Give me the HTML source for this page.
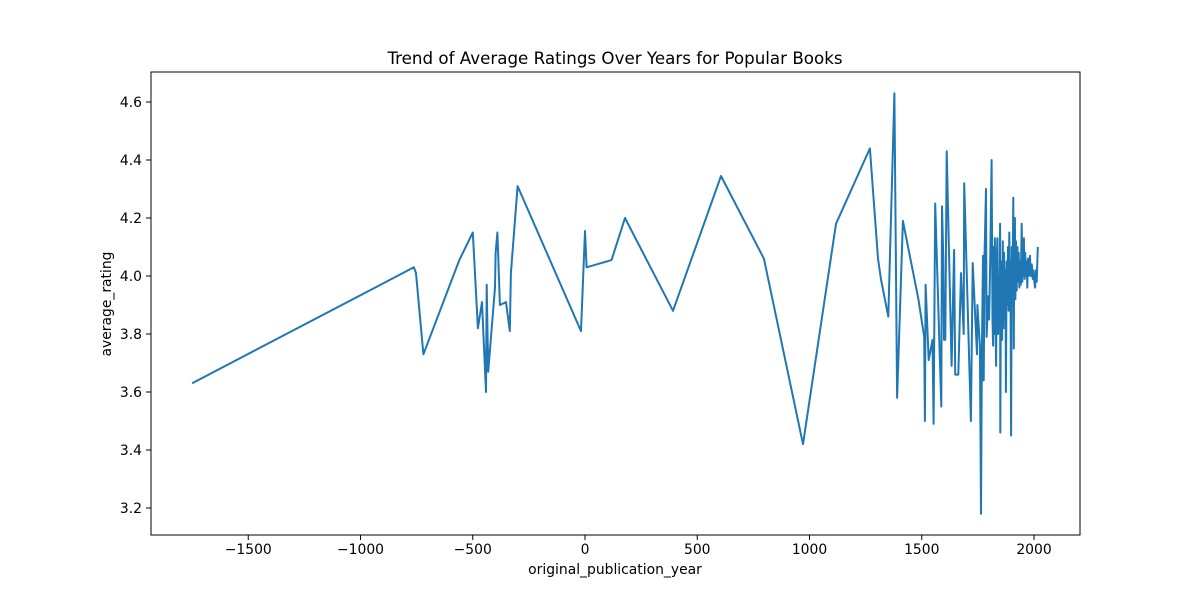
<!DOCTYPE html>
<html><head><meta charset="utf-8"><style>
body{margin:0;background:#fff}
svg text{font-family:"DejaVu Sans","Liberation Sans",sans-serif;fill:#000}
</style></head><body>
<svg id="chart" width="1200" height="600" xmlns="http://www.w3.org/2000/svg">
<rect width="1200" height="600" fill="#fff"/>
<text x="615" y="64" font-size="16.7" text-anchor="middle">Trend of Average Ratings Over Years for Popular Books</text>
<text x="615" y="574" font-size="13.9" text-anchor="middle">original_publication_year</text>
<text x="0" y="0" font-size="13.9" text-anchor="middle" transform="translate(111,304) rotate(-90)">average_rating</text>
<g id="ticks"></g>
<path id="line" fill="none" stroke="#1f77b4" stroke-width="2" stroke-linejoin="round"/>
<rect x="151" y="72" width="929" height="463" fill="none" stroke="#000" stroke-width="1"/>
</svg>
<script>
const years=[-1750,-762,-753,-720,-560,-500,-477,-459,-441,-438,-431,-401,-398,-390,-379,-352,-335,-330,-300,-18,0,7,118,178,392,606,797,971,1118,1269,1305,1318,1351,1378,1390,1416,1485,1511,1514,1517,1531,1548,1553,1560,1587,1590,1596,1599,1605,1611,1633,1644,1649,1663,1675,1687,1689,1719,1727,1746,1748,1759,1764,1768,1773,1776,1780,1786,1789,1796,1800,1805,1811,1815,1818,1820,1824,1826,1828,1831,1834,1837,1840,1843,1846,1849,1850,1853,1856,1858,1861,1864,1867,1870,1873,1875,1878,1881,1884,1887,1890,1893,1895,1898,1901,1904,1908,1910,1912,1915,1917,1920,1923,1926,1929,1932,1935,1938,1941,1945,1948,1951,1955,1958,1961,1964,1967,1970,1973,1976,1979,1982,1985,1988,1990,1994,1997,2000,2005,2008,2012,2017];
const ratings=[3.63,4.03,4.01,3.73,4.055,4.15,3.82,3.91,3.60,3.97,3.67,3.96,4.08,4.15,3.90,3.91,3.81,4.01,4.31,3.81,4.155,4.03,4.055,4.20,3.88,4.345,4.06,3.42,4.18,4.44,4.06,3.99,3.86,4.63,3.58,4.19,3.92,3.79,3.50,3.97,3.71,3.78,3.49,4.25,3.55,4.24,4.06,3.78,3.78,4.43,3.69,4.09,3.66,3.66,4.01,3.80,4.32,3.50,4.045,3.73,3.90,3.76,3.18,3.74,4.07,3.64,4.08,4.30,3.79,3.93,3.85,4.05,4.40,3.85,3.76,4.10,3.80,4.13,3.88,3.69,4.05,4.13,3.80,4.00,3.85,4.18,3.46,4.05,4.03,3.78,4.12,3.82,4.08,3.85,4.02,3.60,4.05,3.90,4.10,3.88,4.15,3.92,4.05,3.45,4.10,3.90,4.27,3.75,4.08,4.20,3.92,4.12,3.95,4.10,3.98,4.08,3.96,4.05,3.97,4.18,3.98,4.06,4.13,3.99,4.08,4.00,4.05,3.96,4.06,4.00,4.04,4.07,4.00,4.03,4.04,3.99,4.02,3.99,3.96,4.02,3.98,4.10];
const xTicks=[-1500,-1000,-500,0,500,1000,1500,2000];
const yTicks=[3.2,3.4,3.6,3.8,4.0,4.2,4.4,4.6];
const X=v=>585+v*0.2245;
const Y=v=>276-(v-4.0)*290;
const NS="http://www.w3.org/2000/svg";
const g=document.getElementById('ticks');
xTicks.forEach(t=>{
  const l=document.createElementNS(NS,'line');
  l.setAttribute('x1',X(t));l.setAttribute('x2',X(t));l.setAttribute('y1',535);l.setAttribute('y2',540);l.setAttribute('stroke','#000');
  
  
  g.appendChild(l);
  const s=document.createElementNS(NS,'text');
  s.setAttribute('x',X(t));s.setAttribute('y',554);s.setAttribute('font-size','13.9');s.setAttribute('text-anchor','middle');
  s.textContent=t<0?'\u2212'+(-t):String(t);
  
  
  g.appendChild(s);
});
yTicks.forEach(t=>{
  const l=document.createElementNS(NS,'line');
  l.setAttribute('x1',146);l.setAttribute('x2',151);l.setAttribute('y1',Y(t));l.setAttribute('y2',Y(t));l.setAttribute('stroke','#000');
  
  
  g.appendChild(l);
  const s=document.createElementNS(NS,'text');
  s.setAttribute('x',142);s.setAttribute('y',Y(t)+5);s.setAttribute('font-size','13.9');s.setAttribute('text-anchor','end');
  s.textContent=t.toFixed(1);
  
  
  g.appendChild(s);
});
document.getElementById('line').setAttribute('d',years.map((y,i)=>(i?'L':'M')+X(y).toFixed(1)+','+Y(ratings[i]).toFixed(1)).join(''));
</script>
</body></html>
